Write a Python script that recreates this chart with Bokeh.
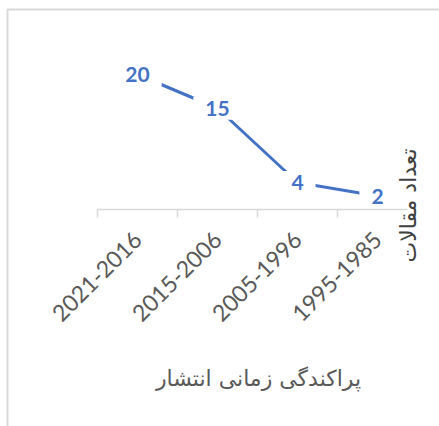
import math
from bokeh.plotting import figure
from bokeh.models import (ColumnDataSource, LinearAxis, FixedTicker, Range1d,
                          Label, BoxAnnotation)
from bokeh.core.properties import value
from bokeh.embed import file_html
from bokeh.resources import INLINE

# ---- data ----
periods = ["2021-2016", "2015-2006", "2005-1996", "1995-1985"]
counts = [20, 15, 4, 2]
x_title = "پراکندگی زمانی انتشار"
y_title = "تعداد مقالات"

W, H = 439, 426
PX_X = 80.0      # px per category
PX_Y = 6.75      # px per unit
x0_px = 137.0    # canvas x of first category
y0_px = 209.0    # canvas y of value 0

xs = list(range(len(periods)))
x_start = -x0_px / PX_X
x_end = x_start + W / PX_X
y_end = y0_px / PX_Y
y_start = -(H - y0_px) / PX_Y

p = figure(width=W, height=H, output_backend="svg", toolbar_location=None,
           x_axis_location=None, y_axis_location=None,
           x_range=Range1d(x_start, x_end), y_range=Range1d(y_start, y_end),
           min_border=0, min_border_left=0, min_border_right=0,
           min_border_top=0, min_border_bottom=0)
p.outline_line_color = None
p.grid.visible = False
p.background_fill_color = "white"
p.border_fill_color = "white"

# chart-area border (right & bottom edges fall outside the view)
p.add_layout(BoxAnnotation(left=x_start + 7.0 / PX_X, top=y_end - 9.0 / PX_Y,
                           right=x_end + 2, bottom=y_start - 2,
                           fill_color=None, fill_alpha=0,
                           line_color="#d9d9d9", line_width=2, line_alpha=1,
                           level="underlay"))

# category axis at y = 0
ticker = FixedTicker(ticks=xs, minor_ticks=[i - 0.5 for i in xs])
xaxis = LinearAxis(fixed_location=0, ticker=ticker,
                   bounds=(-0.5, len(periods) - 0.625))
xaxis.major_label_overrides = {i: lab for i, lab in zip(xs, periods)}
xaxis.major_label_orientation = math.pi / 4
xaxis.major_label_text_font = "Lato"
xaxis.major_label_text_font_size = "23px"
xaxis.major_label_text_color = "#595959"
xaxis.major_label_standoff = 18
xaxis.major_tick_in = 0
xaxis.major_tick_out = 0
xaxis.major_tick_line_color = None
xaxis.minor_tick_in = 0
xaxis.minor_tick_out = 8
xaxis.minor_tick_line_color = "#d9d9d9"
xaxis.minor_tick_line_width = 1.5
xaxis.axis_line_color = "#d9d9d9"
xaxis.axis_line_width = 1.5
p.add_layout(xaxis, "below")

src = ColumnDataSource(dict(x=xs, y=counts, lab=[str(c) for c in counts]))
p.line("x", "y", source=src, line_color="#4472C4", line_width=3)
p.text("x", "y", text="lab", source=src, text_align="center",
       text_baseline="middle", text_font=value("Lato"),
       text_font_style="bold", text_font_size="21px", text_color="#4472C4",
       background_fill_color="white", padding=(12, 4))

# axis titles
p.add_layout(Label(x=258, y=H - 378, x_units="screen", y_units="screen",
                   text=x_title, text_align="center", text_baseline="middle",
                   text_font="DejaVu Sans", text_font_size="22px",
                   text_color="#595959"))
p.add_layout(Label(x=408, y=H - 205, x_units="screen",
                   y_units="screen", angle=math.pi / 2, text=y_title,
                   text_align="center", text_baseline="middle",
                   text_font="DejaVu Sans", text_font_size="22px",
                   text_color="#404040"))

open("out.html", "w").write(file_html(p, INLINE))
